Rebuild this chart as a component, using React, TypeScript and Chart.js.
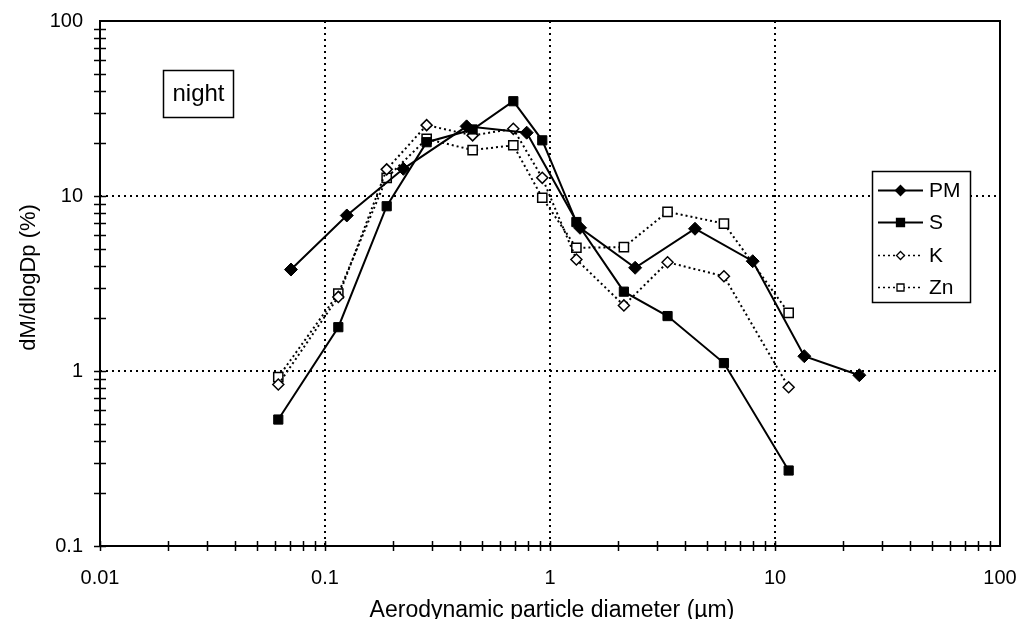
import React, { useEffect, useRef } from "react";
import { Chart, registerables } from "chart.js";

Chart.register(...registerables);

// Particle diameters (µm)
const PM_X = [0.0706, 0.125, 0.223, 0.426, 0.788, 1.36, 2.39, 4.41, 7.96, 13.5, 23.7];
const PM_Y = [3.8, 7.74, 14.3, 25.0, 23.0, 6.58, 3.89, 6.5, 4.24, 1.215, 0.946];

const ELEM_X = [0.062, 0.1146, 0.188, 0.283, 0.453, 0.687, 0.924, 1.31, 2.13, 3.33, 5.93, 11.5];
const S_Y = [0.528, 1.78, 8.74, 20.3, 24.0, 34.8, 20.8, 7.1, 2.84, 2.06, 1.11, 0.27];
const K_Y = [0.837, 2.65, 14.2, 25.4, 22.2, 24.2, 12.7, 4.34, 2.37, 4.18, 3.48, 0.808];
const ZN_Y = [0.922, 2.77, 12.7, 21.2, 18.3, 19.5, 9.77, 5.06, 5.1, 8.12, 6.96, 2.15];

const SERIES_NAMES = ["PM", "S", "K", "Zn"];
const X_TICK_LABELS = ["0.01", "0.1", "1", "10", "100"];
const Y_TICK_LABELS = ["0.1", "1", "10", "100"];
const X_TITLE = "Aerodynamic particle diameter (µm)";
const Y_TITLE = "dM/dlogDp (%)";
const PANEL_LABEL = "night";

const FONT = "'Liberation Sans', Arial, sans-serif";

const toPts = (xs: number[], ys: number[]) => xs.map((x, i) => ({ x, y: ys[i] }));

const isDecade = (v: number) => {
  const l = Math.log10(v);
  return Math.abs(l - Math.round(l)) < 1e-6;
};

function drawMarker(ctx: CanvasRenderingContext2D, kind: string, x: number, y: number, r: number, filled: boolean) {
  ctx.save();
  ctx.beginPath();
  if (kind === "diamond") {
    ctx.moveTo(x, y - r);
    ctx.lineTo(x + r, y);
    ctx.lineTo(x, y + r);
    ctx.lineTo(x - r, y);
    ctx.closePath();
  } else {
    ctx.rect(x - r, y - r, 2 * r, 2 * r);
  }
  ctx.fillStyle = filled ? "#000" : "#fff";
  ctx.fill();
  ctx.lineWidth = 1.3;
  ctx.strokeStyle = "#000";
  ctx.setLineDash([]);
  ctx.stroke();
  ctx.restore();
}

const framePlugin = {
  id: "frame",
  beforeDatasetsDraw(chart: any) {
    const { ctx, chartArea: a, scales } = chart;
    const xs = scales.x;
    const ys = scales.y;
    ctx.save();
    // dotted decade grid lines
    ctx.strokeStyle = "#000";
    ctx.lineWidth = 2;
    ctx.setLineDash([2, 4]);
    [0.1, 1, 10].forEach((v) => {
      const px = Math.round(xs.getPixelForValue(v));
      ctx.beginPath();
      ctx.moveTo(px, a.top);
      ctx.lineTo(px, a.bottom);
      ctx.stroke();
    });
    [1, 10].forEach((v) => {
      const py = Math.round(ys.getPixelForValue(v));
      ctx.beginPath();
      ctx.moveTo(a.left, py);
      ctx.lineTo(a.right, py);
      ctx.stroke();
    });
    ctx.setLineDash([]);
    // frame
    ctx.lineWidth = 2;
    ctx.strokeRect(a.left, a.top, a.right - a.left, a.bottom - a.top);
    // tick marks crossing the axes
    ctx.lineWidth = 1.5;
    for (let e = -2; e < 2; e++) {
      for (let m = 1; m <= 9; m++) {
        const v = m * Math.pow(10, e);
        const px = Math.round(xs.getPixelForValue(v)) + 0.5;
        ctx.beginPath();
        ctx.moveTo(px, a.bottom - 5);
        ctx.lineTo(px, a.bottom + 5);
        ctx.stroke();
      }
    }
    for (let e = -1; e < 2; e++) {
      for (let m = 1; m <= 9; m++) {
        const v = m * Math.pow(10, e);
        const py = Math.round(ys.getPixelForValue(v)) + 0.5;
        ctx.beginPath();
        ctx.moveTo(a.left - 6, py);
        ctx.lineTo(a.left + 6, py);
        ctx.stroke();
      }
    }
    ctx.restore();
  },
  afterDraw(chart: any) {
    const { ctx, chartArea: a } = chart;
    ctx.save();
    ctx.fillStyle = "#000";
    ctx.strokeStyle = "#000";
    // axis titles
    ctx.font = `23px ${FONT}`;
    ctx.textAlign = "center";
    ctx.textBaseline = "alphabetic";
    ctx.fillText(X_TITLE, (a.left + a.right) / 2 + 2, 617);
    ctx.save();
    ctx.font = `22px ${FONT}`;
    ctx.translate(35, (a.top + a.bottom) / 2 - 6);
    ctx.rotate(-Math.PI / 2);
    ctx.fillText(Y_TITLE, 0, 0);
    ctx.restore();

    // "night" box
    ctx.lineWidth = 1.5;
    ctx.fillStyle = "#fff";
    ctx.fillRect(163, 70, 70, 47);
    ctx.strokeRect(163.5, 70.5, 70, 47);
    ctx.fillStyle = "#000";
    ctx.font = `24px ${FONT}`;
    ctx.textAlign = "center";
    ctx.textBaseline = "middle";
    ctx.fillText(PANEL_LABEL, 198.5, 94);

    // legend box
    ctx.fillStyle = "#fff";
    ctx.fillRect(872, 171, 98, 131);
    ctx.strokeRect(872.5, 171.5, 98, 131);
    const rows = [190, 222, 255, 287];
    const styles = [
      { dash: [] as number[], kind: "diamond", filled: true, r: 5 },
      { dash: [] as number[], kind: "square", filled: true, r: 4 },
      { dash: [2, 3], kind: "diamond", filled: false, r: 4 },
      { dash: [2, 3], kind: "square", filled: false, r: 3.5 },
    ];
    ctx.font = `21px ${FONT}`;
    ctx.textAlign = "left";
    ctx.textBaseline = "middle";
    rows.forEach((ry, i) => {
      const st = styles[i];
      ctx.save();
      ctx.lineWidth = st.dash.length ? 1.5 : 2;
      ctx.setLineDash(st.dash);
      ctx.beginPath();
      ctx.moveTo(878, ry + 0.5);
      ctx.lineTo(923, ry + 0.5);
      ctx.stroke();
      ctx.restore();
      drawMarker(ctx, st.kind, 900.5, ry + 0.5, st.r, st.filled);
      ctx.fillStyle = "#000";
      ctx.fillText(SERIES_NAMES[i], 929, ry + 1);
    });
    ctx.restore();
  },
};

export default function App() {
  const ref = useRef<HTMLCanvasElement | null>(null);

  useEffect(() => {
    document.body.style.margin = "0";
    const canvas = ref.current;
    if (!canvas) return;
    const chart = new Chart(canvas, {
      type: "line",
      data: {
        datasets: [
          {
            label: SERIES_NAMES[0],
            data: toPts(PM_X, PM_Y),
            borderColor: "#000",
            borderWidth: 2,
            backgroundColor: "#000",
            pointStyle: "rectRot",
            pointRadius: 6.5,
            pointBorderColor: "#000",
            pointBackgroundColor: "#000",
            pointBorderWidth: 1,
            tension: 0,
          },
          {
            label: SERIES_NAMES[1],
            data: toPts(ELEM_X, S_Y),
            borderColor: "#000",
            borderWidth: 2,
            backgroundColor: "#000",
            pointStyle: "rect",
            pointRadius: 6.5,
            pointBorderColor: "#000",
            pointBackgroundColor: "#000",
            pointBorderWidth: 1,
            tension: 0,
          },
          {
            label: SERIES_NAMES[2],
            data: toPts(ELEM_X, K_Y),
            borderColor: "#000",
            borderWidth: 2,
            borderDash: [2, 3],
            backgroundColor: "#fff",
            pointStyle: "rectRot",
            pointRadius: 5.5,
            pointBorderColor: "#000",
            pointBackgroundColor: "#fff",
            pointBorderWidth: 1.5,
            tension: 0,
          },
          {
            label: SERIES_NAMES[3],
            data: toPts(ELEM_X, ZN_Y),
            borderColor: "#000",
            borderWidth: 2,
            borderDash: [2, 3],
            backgroundColor: "#fff",
            pointStyle: "rect",
            pointRadius: 6.5,
            pointBorderColor: "#000",
            pointBackgroundColor: "#fff",
            pointBorderWidth: 1.5,
            tension: 0,
          },
        ],
      },
      options: {
        animation: false,
        responsive: false,
        devicePixelRatio: 1,
        layout: { padding: { top: 21, right: 22, left: 0, bottom: 0 } },
        plugins: {
          legend: { display: false },
          tooltip: { enabled: false },
        },
        scales: {
          x: {
            type: "logarithmic",
            min: 0.01,
            max: 100,
            position: "bottom",
            border: { display: false },
            grid: { display: false, drawTicks: false, tickLength: 0 },
            ticks: {
              autoSkip: false,
              maxRotation: 0,
              minRotation: 0,
              padding: 20,
              color: "#000",
              font: { family: FONT, size: 20 },
              callback: (v: any) => {
                const n = Number(v);
                if (!isDecade(n)) return "";
                return X_TICK_LABELS[Math.round(Math.log10(n)) + 2] ?? "";
              },
            },
            afterFit: (s: any) => {
              s.height = 73;
              s.paddingLeft = 0;
              s.paddingRight = 0;
            },
          },
          y: {
            type: "logarithmic",
            min: 0.1,
            max: 100,
            position: "left",
            border: { display: false },
            grid: { display: false, drawTicks: false, tickLength: 0 },
            ticks: {
              autoSkip: false,
              padding: 17,
              color: "#000",
              font: { family: FONT, size: 20 },
              callback: (v: any) => {
                const n = Number(v);
                if (!isDecade(n)) return "";
                return Y_TICK_LABELS[Math.round(Math.log10(n)) + 1] ?? "";
              },
            },
            afterFit: (s: any) => {
              s.width = 100;
              s.paddingTop = 0;
              s.paddingBottom = 0;
            },
          },
        },
      },
      plugins: [framePlugin],
    });
    return () => chart.destroy();
  }, []);

  return (
    <div style={{ position: "absolute", left: 0, top: 0, width: 1022, height: 619, background: "#fff" }}>
      <canvas ref={ref} width={1022} height={619} />
    </div>
  );
}
